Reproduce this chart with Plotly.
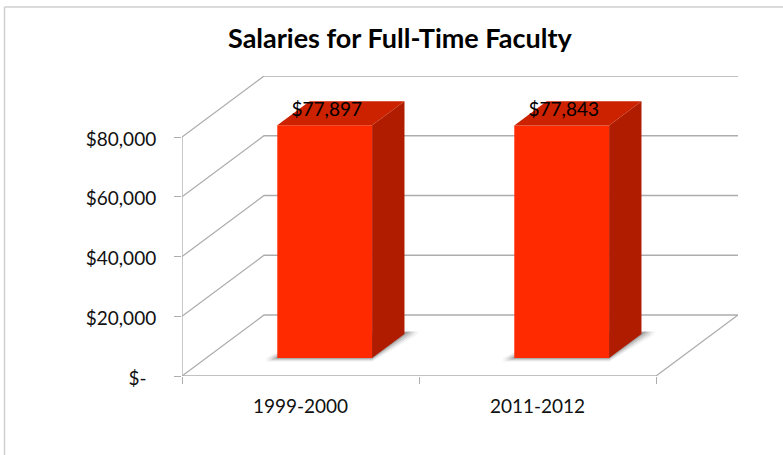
import plotly.graph_objects as go

categories = ["1999-2000", "2011-2012"]
salaries = [77897, 77843]
y_ticks = [0, 20000, 40000, 60000, 80000]
y_labels = ["$-\u00a0\u00a0", "$20,000", "$40,000", "$60,000", "$80,000"]
title = "Salaries for Full-Time Faculty"

W, H = 783, 455
FONT = "Lato"
GREY = "#adadad"
TXT = "#111111"
# front plane in page pixels
L, R, T, B = 182, 656, 137, 376
px_x = 2 / (R - L)
px_y = 80000 / (B - T)
# 3-D shear: depth 1 = back wall
DX_PX, DY_PX = 82, 61
DX, DY = DX_PX * px_x, DY_PX * px_y
FRONT, BACK = 0.295, 0.69
BAR_W = 0.40
X_MAX = 2 + DX
Y_MAX = 80000 + DY


def proj(x, v, d):
    return x + d * DX, v + d * DY


fig = go.Figure()


def poly(pts, color, axes=("x", "y")):
    fig.add_trace(go.Scatter(x=[p[0] for p in pts], y=[p[1] for p in pts], mode="lines",
                             fill="toself", fillcolor=color, line=dict(width=0),
                             hoverinfo="skip", showlegend=False, xaxis=axes[0], yaxis=axes[1]))


def line(pts):
    fig.add_trace(go.Scatter(x=[p[0] for p in pts], y=[p[1] for p in pts], mode="lines",
                             line=dict(color=GREY, width=1.3), hoverinfo="skip",
                             showlegend=False, cliponaxis=False))


# walls: gridlines running over the side wall and the back wall
for v in y_ticks:
    line([proj(0, v, 0), proj(0, v, 1), proj(2, v, 1)])
line([proj(2, 0, 1), proj(2, 0, 0)])
# front axis lines
line([(0, 80000), (0, 0), (2, 0)])

# soft floor shadows
for i in range(len(categories)):
    c = i + 0.5
    x0, x1 = c - BAR_W / 2, c + BAR_W / 2
    for grow, col in [(11, "rgba(150,150,150,0.10)"), (8, "rgba(130,130,130,0.16)"),
                      (5, "rgba(110,110,110,0.22)"), (2, "rgba(90,90,90,0.30)")]:
        g = grow * px_x
        s = grow * 0.35 * px_y
        poly([proj(x0 - g, -s, FRONT), proj(x1, -s, FRONT), proj(x1 + g, -s / 2, BACK),
              proj(x1 + g, 0, BACK + 0.04), proj(x0, 0, BACK), proj(x0 - g, 0, FRONT)], col)

# bar front faces (overlay axes so they sit above the shadows)
front_x, front_base = zip(*[proj(i + 0.5, 0, FRONT) for i in range(len(categories))])
fig.add_trace(go.Bar(x=list(front_x), y=salaries, base=list(front_base), width=BAR_W,
                     marker=dict(color="#ff2a00", line=dict(width=0)),
                     hoverinfo="skip", showlegend=False, xaxis="x2", yaxis="y2"))

# bar side and top faces
for i, val in enumerate(salaries):
    c = i + 0.5
    x0, x1 = c - BAR_W / 2, c + BAR_W / 2
    poly([proj(x1, 0, FRONT), proj(x1, 0, BACK), proj(x1, val, BACK), proj(x1, val, FRONT)],
         "#b01c00", ("x2", "y2"))
    poly([proj(x0, val, FRONT), proj(x1, val, FRONT), proj(x1, val, BACK), proj(x0, val, BACK)],
         "#cc2200", ("x2", "y2"))

# data labels on the top faces
lab = [proj(i + 0.5, v + 3 * px_y, 0.32) for i, v in enumerate(salaries)]
fig.add_trace(go.Scatter(x=[p[0] for p in lab], y=[p[1] for p in lab], mode="text",
                         text=[f"${v:,}" for v in salaries], textposition="top center",
                         textfont=dict(family=FONT, size=19, color="#000000"),
                         hoverinfo="skip", showlegend=False, xaxis="x2", yaxis="y2"))

x_dom = [L / W, (L + (X_MAX / px_x)) / W]
y_dom = [1 - B / H, 1 - (B - Y_MAX / px_y) / H]
fig.update_layout(
    width=W, height=H, margin=dict(l=0, r=0, t=0, b=0),
    paper_bgcolor="white", plot_bgcolor="rgba(0,0,0,0)", barmode="overlay",
    font=dict(family=FONT, color=TXT),
    xaxis=dict(domain=x_dom, range=[0, X_MAX], tickmode="array",
               tickvals=[0.5, 1.5], ticktext=categories, ticklen=0, ticks="outside",
               tickcolor=GREY, ticklabelstandoff=13, tickfont=dict(family=FONT, size=19, color=TXT),
               showgrid=False, zeroline=False, showline=False, automargin=False,
               minor=dict(tickmode="array", tickvals=[0, 1, 2], ticks="outside", ticklen=7,
                          tickcolor=GREY, tickwidth=1.3, showgrid=False)),
    yaxis=dict(domain=y_dom, range=[0, Y_MAX], tickmode="array",
               tickvals=y_ticks, ticktext=y_labels, ticks="outside", ticklen=7, tickcolor=GREY,
               tickwidth=1.3, ticklabelstandoff=14, ticklabelshift=2,
               tickfont=dict(family=FONT, size=19, color=TXT),
               showgrid=False, zeroline=False, showline=False, automargin=False),
    xaxis2=dict(domain=x_dom, range=[0, X_MAX], overlaying="x", visible=False),
    yaxis2=dict(domain=y_dom, range=[0, Y_MAX], overlaying="y", visible=False),
    annotations=[dict(text=f"<b>{title}</b>", xref="paper", yref="paper", x=400 / W, y=1 - 37.5 / H,
                      xanchor="center", yanchor="middle", showarrow=False,
                      font=dict(family=FONT, size=27, color="#000000"))],
    shapes=[dict(type="line", xref="paper", yref="paper", x0=4.5 / W, x1=1, y0=1 - 7 / H, y1=1 - 7 / H,
                 line=dict(color="#cfcfcf", width=1.5)),
            dict(type="line", xref="paper", yref="paper", x0=4.5 / W, x1=4.5 / W, y0=1 - 7 / H, y1=0,
                 line=dict(color="#cfcfcf", width=1.5))],
)

fig.write_html("out.html", post_script="document.body.style.margin='0';", config={"displayModeBar": False})
